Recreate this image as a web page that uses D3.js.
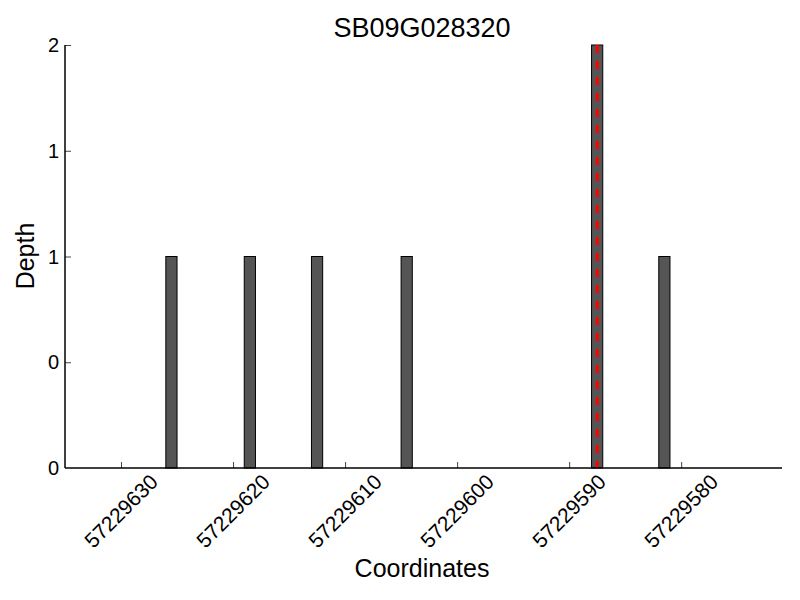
<!DOCTYPE html>
<html>
<head>
<meta charset="utf-8">
<script src="https://cdn.jsdelivr.net/npm/d3@7"></script>
<style>
  html, body { margin: 0; padding: 0; background: #fff; }
  svg { display: block; font-family: "Liberation Sans", Arial, sans-serif; }
</style>
</head>
<body>
<svg id="chart" width="800" height="600"></svg>
<script>
// ---- data ----
const title = "SB09G028320";
const xLabel = "Coordinates";
const yLabel = "Depth";
const positions = [57229625, 57229618, 57229612, 57229604, 57229587, 57229581];
const depths = [1, 1, 1, 1, 2, 1];
const xTickValues = [57229630, 57229620, 57229610, 57229600, 57229590, 57229580];
const yTickValues = [0, 0.5, 1, 1.5, 2];
const markerPosition = [57229587.5];
const xDomain = [57229635, 57229571];
const yDomain = [0, 2];

// ---- layout ----
const svg = d3.select("#chart");
const plotLeft = 65, plotRight = 782, plotTop = 45, plotBottom = 468;

const x = d3.scaleLinear().domain(xDomain).range([plotLeft, plotRight]);
const y = d3.scaleLinear().domain(yDomain).range([plotBottom, plotTop]);

// bars
const bars = positions.map((p, i) => ({ p, d: depths[i] }));
svg.append("g").selectAll("rect").data(bars).join("rect")
  .attr("x", d => x(d.p + 1))
  .attr("width", d => x(d.p) - x(d.p + 1))
  .attr("y", d => y(d.d))
  .attr("height", d => y(0) - y(d.d))
  .attr("fill", "#555555")
  .attr("stroke", "#000")
  .attr("stroke-width", 1);

// red dashed marker
svg.append("g").selectAll("line").data(markerPosition).join("line")
  .attr("x1", d => x(d)).attr("x2", d => x(d))
  .attr("y1", y(2)).attr("y2", y(0))
  .attr("stroke", "#ff0000")
  .attr("stroke-width", 3)
  .attr("stroke-dasharray", "8,8");

// x axis
const xAxis = d3.axisTop(x).tickValues(xTickValues).tickSize(6).tickFormat(d3.format("d"));
const gx = svg.append("g").attr("transform", `translate(0,${plotBottom})`).call(xAxis);
gx.select(".domain").remove();
gx.selectAll(".tick line").attr("stroke", "#444");
gx.selectAll(".tick text").remove();
svg.append("line").attr("x1", plotLeft).attr("x2", plotRight).attr("y1", plotBottom).attr("y2", plotBottom)
  .attr("stroke", "#000").attr("stroke-width", 1.5);
svg.append("g").selectAll("text").data(xTickValues).join("text")
  .attr("transform", d => `translate(${x(d)},511) rotate(-45)`)
  .attr("text-anchor", "middle")
  .attr("dy", "0.35em")
  .attr("font-size", 21)
  .attr("fill", "#000")
  .text(d => d3.format("d")(d));

// y axis
const yAxis = d3.axisRight(y).tickValues(yTickValues).tickSize(6).tickFormat(d => String(Math.floor(d)));
const gy = svg.append("g").attr("transform", `translate(${plotLeft},0)`).call(yAxis);
gy.select(".domain").remove();
gy.selectAll(".tick line").attr("stroke", "#444");
gy.selectAll(".tick text").remove();
svg.append("line").attr("x1", plotLeft).attr("x2", plotLeft).attr("y1", plotTop).attr("y2", plotBottom)
  .attr("stroke", "#000").attr("stroke-width", 1.5);
svg.append("g").selectAll("text").data(yTickValues).join("text")
  .attr("x", 59)
  .attr("y", d => y(d))
  .attr("dy", "0.35em")
  .attr("text-anchor", "end")
  .attr("font-size", 20)
  .attr("fill", "#000")
  .text(d => String(Math.floor(d)));

// labels
svg.append("text").attr("x", 422).attr("y", 37).attr("text-anchor", "middle")
  .attr("font-size", 27).attr("fill", "#000").text(title);
svg.append("text").attr("x", 422).attr("y", 577).attr("text-anchor", "middle")
  .attr("font-size", 25).attr("fill", "#000").text(xLabel);
svg.append("text").attr("transform", "translate(34,256) rotate(-90)").attr("text-anchor", "middle")
  .attr("font-size", 25).attr("fill", "#000").text(yLabel);
</script>
</body>
</html>
